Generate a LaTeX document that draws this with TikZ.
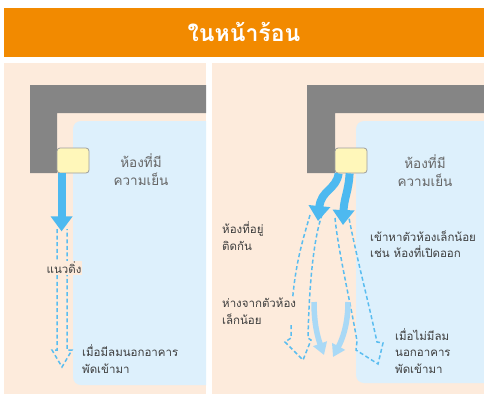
\documentclass[tikz,border=0pt]{standalone}
\usepackage{fontspec}
\newfontfamily\thai[Script=Thai]{Loma}
\usetikzlibrary{arrows.meta,calc}
\definecolor{orangebar}{HTML}{F28A00}
\definecolor{peach}{HTML}{FDEBDC}
\definecolor{roomblue}{HTML}{DDF0FC}
\definecolor{wallgray}{HTML}{858585}
\definecolor{acyellow}{HTML}{FFF7BA}
\definecolor{flowblue}{HTML}{4DB9F0}
\definecolor{dashblue}{HTML}{5ABDF0}
\definecolor{paleblue}{HTML}{A9D9F6}
\definecolor{txt}{HTML}{3E3E3E}
\definecolor{roomtxt}{HTML}{666666}
\tikzset{
  wall/.style={fill=wallgray},
  room/.style={fill=roomblue, rounded corners=8pt},
  acunit/.style={draw=wallgray!80, line width=0.8pt, fill=acyellow, rounded corners=3pt, minimum width=32pt, minimum height=25pt, inner sep=0pt},
  roomlabel/.style={font=\thai\fontsize{13.5}{18}\selectfont, text=roomtxt, align=center},
  note/.style={font=\thai\fontsize{11.5}{16.5}\selectfont, text=txt, align=left, anchor=west, inner sep=1pt},
  mask/.style={fill=peach},
  flow/.style={draw=flowblue, line width=8pt, -{Triangle[width=21pt,length=15pt]}},
  paleflow/.style={draw=paleblue, line width=5.5pt, -{Triangle[width=14pt,length=12pt]}},
  dashflow/.style={draw=dashblue, line width=1.5pt, dash pattern=on 4pt off 2.6pt, line join=miter},
}
\begin{document}
\begin{tikzpicture}[x=1pt,y=-1pt]
\useasboundingbox (0,0) rectangle (484,394);
\fill[white] (0,0) rectangle (484,394);
% title bar
\fill[orangebar] (4,8) rectangle (484,57);
\node[text=white, font=\thai\bfseries\fontsize{23}{26}\selectfont] (title) at (244,32) {ในหน้าร้อน};
% panels
\fill[peach] (4,63) rectangle (206,394);
\fill[peach] (212,63) rectangle (484,394);
\begin{scope}
  \clip (4,63) rectangle (206,394);
  \fill[room] (73,121) rectangle (240,385);
\end{scope}
\begin{scope}
  \clip (212,63) rectangle (484,394);
  \fill[room] (356,121) rectangle (520,383);
\end{scope}
% walls
\fill[wall] (30,85) -- (206,85) -- (206,113) -- (57,113) -- (57,173) -- (30,173) -- cycle;
\fill[wall] (307,85) -- (484,85) -- (484,113) -- (335,113) -- (335,173) -- (307,173) -- cycle;
% AC units
\node[acunit] (acL) at (73,160.5) {};
\node[acunit] (acR) at (351,160.5) {};
% room labels
\node[roomlabel] (roomL) at (141,170) {ห้องที่มี\\ความเย็น};
\node[roomlabel] (roomR) at (425,171) {ห้องที่มี\\ความเย็น};
% left panel flow
\draw[dashflow] (57,229) -- (57,350) -- (52,350) -- (62,367) -- (72,350) -- (67,350) -- (67,229);
\draw[flow] ($(acL.south west)+(5,0)$) -- ($(acL.south west)+(5,58)$);
\node[note, mask, anchor=center] (vert) at (64,268) {แนวดิ่ง};
\node[note] (windL) at (81,359) {เมื่อมีลมนอกอาคาร\\พัดเข้ามา};
% right panel dashed flows
\draw[dashflow] (310,215) .. controls (302,243) and (291,275) .. (291,338) -- (285,342) -- (303,360) -- (311,340) -- (308,338) .. controls (309,290) and (313,240) .. (322,215);
\draw[dashflow] (335,218) .. controls (338,250) and (350,300) .. (357,341) -- (356,350) -- (378,364) -- (383,343) -- (377,342) .. controls (368,300) and (356,255) .. (349,218);
% right panel solid flows
\draw[flow] ($(acR.south west)+(4,0)$) .. controls ($(acR.south west)+(2,16)$) and (321,190) .. (318,221);
\draw[flow] ($(acR.south west)+(15,0)$) .. controls ($(acR.south west)+(14,18)$) and (344,198) .. (343,225);
% pale return flows
\draw[paleflow] (314,302) .. controls (314,325) and (318,338) .. (324,355);
\draw[paleflow] (348,302) .. controls (348,325) and (342,340) .. (333,357);
% notes
\node[note] (adj) at (221,236) {ห้องที่อยู่\\ติดกัน};
\node[note] (toward) at (369,244) {เข้าหาตัวห้องเล็กน้อย\\เช่น ห้องที่เปิดออก};
\node[note, mask] (away) at (221,311) {ห่างจากตัวห้อง\\เล็กน้อย};
\node[note] (windR) at (394,351) {เมื่อไม่มีลม\\นอกอาคาร\\พัดเข้ามา};
\end{tikzpicture}
\end{document}
